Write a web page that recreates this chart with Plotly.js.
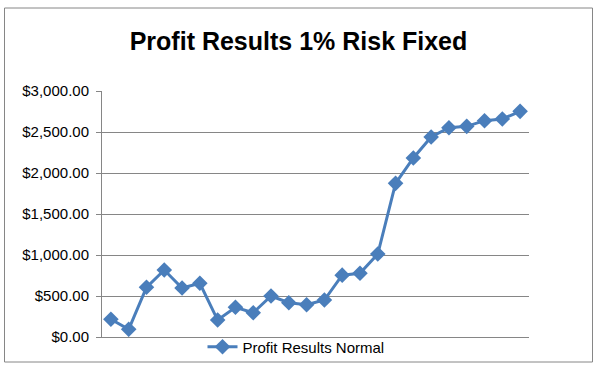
<!DOCTYPE html>
<html>
<head>
<meta charset="utf-8">
<script src="https://cdn.plot.ly/plotly-3.0.1.min.js"></script>
<style>html,body{margin:0;padding:0;background:#fff}#chart{width:600px;height:369px}</style>
</head>
<body>
<div id="chart"></div>
<script>
var categories = ["1","2","3","4","5","6","7","8","9","10","11","12","13","14","15","16","17","18","19","20","21","22","23","24"];
var profitValues = [216, 94, 606, 817, 598, 655, 207, 362, 296, 500, 418, 394, 451, 754, 777, 1012, 1874, 2183, 2439, 2552, 2569, 2638, 2659, 2752];
var yTickValues = [0, 500, 1000, 1500, 2000, 2500, 3000];
var yTickLabels = ["$0.00", "$500.00", "$1,000.00", "$1,500.00", "$2,000.00", "$2,500.00", "$3,000.00"];
var seriesName = "Profit Results Normal";
var chartTitle = "Profit Results 1% Risk Fixed";

var trace = {
  x: categories,
  y: profitValues,
  type: "scatter",
  mode: "lines+markers",
  name: seriesName,
  line: {color: "#4a7ebb", width: 3},
  marker: {symbol: "diamond", size: 12, color: "#4a7ebb"}
};

var layout = {
  width: 600, height: 369,
  margin: {l: 102, r: 71, t: 91, b: 32, autoexpand: false},
  paper_bgcolor: "#ffffff",
  plot_bgcolor: "#ffffff",
  font: {family: "Liberation Sans, Arial, sans-serif", size: 15, color: "#000"},
  title: {
    text: "<b>" + chartTitle + "</b>",
    font: {family: "Liberation Sans, Arial, sans-serif", size: 25, color: "#000"},
    x: 298.5/600, xanchor: "center", y: 1 - 41/369, yanchor: "middle"
  },
  showlegend: true,
  legend: {
    orientation: "h", xref: "container", x: 296/600, xanchor: "center",
    yref: "container", y: 1 - 347/369, yanchor: "middle",
    font: {size: 15}, bgcolor: "rgba(0,0,0,0)", itemwidth: 30
  },
  xaxis: {
    type: "category",
    range: [-0.5, 23.5],
    showticklabels: false,
    showgrid: false,
    zeroline: false,
    showline: true,
    linecolor: "#868686",
    linewidth: 1,
    ticks: "",
    fixedrange: true
  },
  yaxis: {
    range: [0, 3000],
    tickvals: yTickValues,
    ticktext: yTickLabels,
    showgrid: true,
    gridcolor: "#868686",
    gridwidth: 1,
    zeroline: false,
    showline: true,
    linecolor: "#868686",
    linewidth: 1,
    ticks: "outside",
    ticklen: 5,
    tickcolor: "#868686",
    tickfont: {size: 15},
    ticklabelstandoff: 4
  },
  shapes: [{
    type: "rect", xref: "paper", yref: "paper",
    x0: -97.5/427, x1: 1 + 63.5/427,
    y0: -25/246, y1: 1 + 83/246,
    line: {color: "#868686", width: 1},
    fillcolor: "rgba(0,0,0,0)",
    layer: "above"
  }]
};

Plotly.newPlot("chart", [trace], layout, {displayModeBar: false, staticPlot: true});
</script>
</body>
</html>
